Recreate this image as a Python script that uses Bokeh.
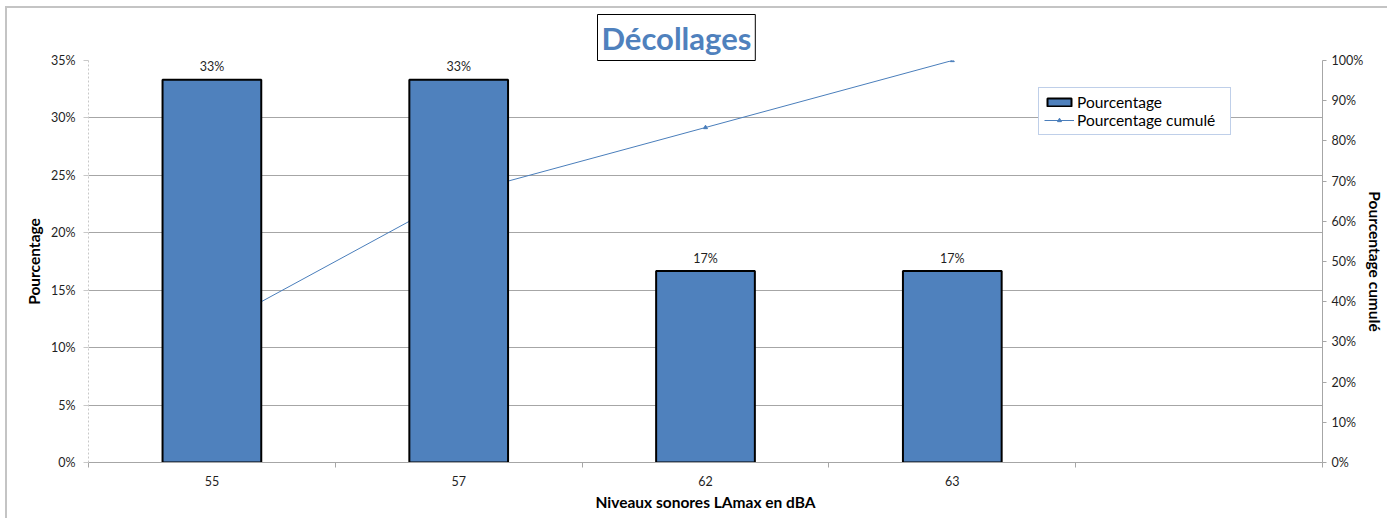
from bokeh.plotting import figure
from bokeh.models import (Range1d, LinearAxis, FixedTicker, NumeralTickFormatter,
                          Legend, LegendItem, Title, ColumnDataSource)
from bokeh.embed import file_html
from bokeh.resources import INLINE

# Noise levels (dBA) and share of departures at each level
categories = ["55", "57", "62", "63", ""]
percentages = [0.3333, 0.3333, 0.1667, 0.1667]
cumulative = [0.3333, 0.6667, 0.8333, 1.0]
left_ticks = [0, 0.05, 0.10, 0.15, 0.20, 0.25, 0.30, 0.35]
right_ticks = [0, 0.1, 0.2, 0.3, 0.4, 0.5, 0.6, 0.7, 0.8, 0.9, 1.0]

FONT = "Lato"
BLUE = "#4F81BD"
GRID = "#A6A6A6"
TEXT = "#1F1F1F"

n_slots = len(categories)
centers = [i + 0.5 for i in range(len(percentages))]
slot_edges = list(range(n_slots + 1))

src = ColumnDataSource(dict(
    x=centers,
    pct=percentages,
    cum=cumulative,
    lbl=[f"{v:.0%}" for v in percentages],
))

# chart area sits inside a light grey frame offset from the page corner
p = figure(width=1380, height=510, output_backend="svg", toolbar_location=None,
           x_range=Range1d(0, n_slots), y_range=Range1d(0, 0.35),
           min_border_left=81, min_border_right=61, min_border_top=52, min_border_bottom=56,
           outline_line_color=None, background_fill_color="white", border_fill_color="white",
           margin=(8, 0, 0, 7),
           styles={"outline": "2px solid #C4C4C4"})

p.extra_y_ranges = {"cum": Range1d(0, 1)}

# cumulative line sits behind the bars
line_r = p.line("x", "cum", source=src, y_range_name="cum", line_color="#4A7EBB", line_width=1)
mark_r = p.scatter("x", "cum", source=src, y_range_name="cum", marker="triangle",
                   size=4, fill_color="#4A7EBB", line_color="#4A7EBB")

bar_r = p.vbar(x="x", top="pct", width=0.4, source=src, fill_color=BLUE,
               line_color="black", line_width=2)

p.text(x="x", y="pct", text="lbl", source=src, text_align="center",
       text_baseline="alphabetic", y_offset=-13, text_font_size="12.5px",
       text_color=TEXT, text_font={"value": FONT})

# x axis: labels at slot centres, tick marks at slot boundaries
xa = p.xaxis[0]
xa.ticker = FixedTicker(ticks=centers, minor_ticks=slot_edges)
xa.major_label_overrides = {c: categories[i] for i, c in enumerate(centers)}
xa.major_tick_out = 0
xa.major_tick_in = 0
xa.minor_tick_out = 5
xa.minor_tick_in = 0
xa.minor_tick_line_color = GRID
xa.axis_line_color = GRID
xa.major_label_standoff = 8
xa.axis_label = "Niveaux sonores LAmax en dBA"
xa.axis_label_standoff = 4

# left axis
ya = p.yaxis[0]
ya.ticker = FixedTicker(ticks=left_ticks)
ya.formatter = NumeralTickFormatter(format="0%")
ya.axis_line_color = "#C8C8C8"
ya.axis_line_dash = "2 2"
ya.major_tick_out = 5
ya.major_tick_in = 0
ya.major_tick_line_color = "#C8C8C8"
ya.minor_tick_line_color = None
ya.major_label_standoff = 8
ya.axis_label = "Pourcentage"
ya.axis_label_standoff = 5

# right axis for the cumulative share
ra = LinearAxis(y_range_name="cum", ticker=FixedTicker(ticks=right_ticks),
                formatter=NumeralTickFormatter(format="0%"))
ra.axis_line_color = GRID
ra.major_tick_out = 4
ra.major_tick_in = 0
ra.major_tick_line_color = GRID
ra.minor_tick_line_color = None
ra.major_label_standoff = 5
ra.axis_label = "Pourcentage cumulé"
ra.axis_label_standoff = 0
p.add_layout(ra, "right")

for ax in (xa, ya, ra):
    ax.major_label_text_font = FONT
    ax.major_label_text_font_size = "12.5px"
    ax.major_label_text_color = TEXT
    ax.axis_label_text_font = FONT
    ax.axis_label_text_font_size = "15.5px"
    ax.axis_label_text_font_style = "bold"
    ax.axis_label_text_color = "black"

p.xgrid.grid_line_color = None
p.ygrid.ticker = FixedTicker(ticks=left_ticks)
p.ygrid.grid_line_color = GRID
p.ygrid.grid_line_width = 1

legend = Legend(items=[
    LegendItem(label="Pourcentage", renderers=[bar_r]),
    LegendItem(label="Pourcentage cumulé", renderers=[line_r, mark_r]),
], location=(950, 327))
legend.border_line_color = "#7F9FD3"
legend.border_line_width = 1
legend.background_fill_color = "white"
legend.background_fill_alpha = 1
legend.label_text_font = FONT
legend.label_text_font_size = "15.5px"
legend.label_text_color = "black"
legend.glyph_width = 30
legend.glyph_height = 10
legend.label_standoff = 3
legend.label_width = 148
legend.label_height = 17
legend.spacing = 0
legend.padding = 5
legend.margin = 0
p.add_layout(legend, "center")

# chart title in a framed box
p.title = Title(text="Décollages", align="left", offset=509, vertical_align="bottom",
                standoff=0, text_font=FONT, text_font_size="31px", text_font_style="bold",
                text_color=BLUE, background_fill_color="white", border_line_color="black",
                border_line_width=1, padding=4)

open("out.html", "w").write(file_html(p, INLINE))
